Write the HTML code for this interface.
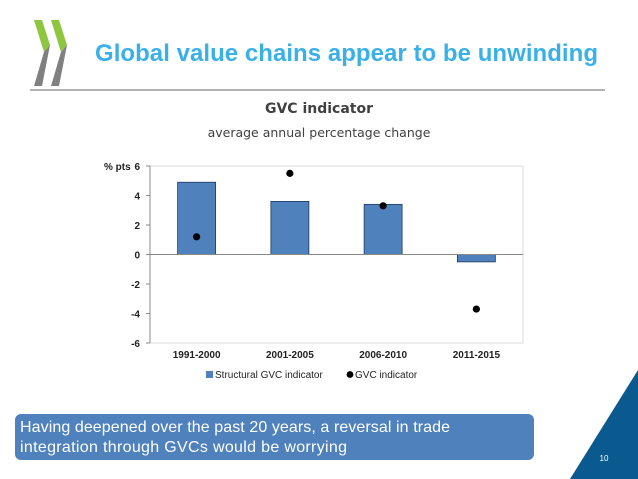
<!DOCTYPE html>
<html><head><meta charset="utf-8"><style>
body{margin:0;width:638px;height:479px;overflow:hidden;background:#fff;font-family:"Liberation Sans",sans-serif;position:relative}
.abs{position:absolute}
</style></head><body>
<svg class="abs" style="left:0;top:0" width="638" height="479">
  <g>
    <polygon points="34,20 42,20 50,45 44,52" fill="#8dc63f"/>
    <polygon points="44,52 50,45 42,86 34,86" fill="#808080"/>
    <polygon points="51,20 59,20 67,45 61,52" fill="#8dc63f"/>
    <polygon points="61,52 67,45 59,86 51,86" fill="#808080"/>
  </g>
  <text x="95" y="61" font-size="24" font-weight="bold" fill="#3ab0e8" textLength="503">Global value chains appear to be unwinding</text>
  <line x1="30" y1="90" x2="605" y2="90" stroke="#666" stroke-width="1"/>
  <text x="319" y="113" font-size="14" font-weight="bold" fill="#404040" text-anchor="middle" font-family="DejaVu Sans, sans-serif">GVC indicator</text>
  <text x="319" y="137" font-size="12.5" fill="#404040" text-anchor="middle" font-family="DejaVu Sans, sans-serif">average annual percentage change</text>
  <g id="chart"></g>
  <rect x="15" y="414" width="519" height="46" rx="6" fill="#4f81bd"/>
  <text font-size="16" fill="#fff"><tspan x="20" y="432" textLength="430">Having deepened over the past 20 years, a reversal in trade</tspan><tspan x="20" y="452" textLength="327">integration through GVCs would be worrying</tspan></text>
  <polygon points="638,370 638,479 570,479" fill="#0b5a8f"/>
  <text x="604" y="461" font-size="8" fill="#fff" text-anchor="middle">10</text>
</svg>
<script>
const categories=["1991-2000","2001-2005","2006-2010","2011-2015"];
const structuralValues=[4.9,3.6,3.4,-0.5];
const gvcValues=[1.2,5.5,3.3,-3.7];
const yTicks=[6,4,2,0,-2,-4,-6];
const NS="http://www.w3.org/2000/svg";
const g=document.getElementById('chart');
const X0=150,X1=523,Y0=166,Y1=343,yMin=-6,yMax=6;
const y=v=>Y0+(yMax-v)/(yMax-yMin)*(Y1-Y0);
const bw=(X1-X0)/categories.length;
const xc=i=>X0+bw*(i+0.5);
function mk(t,a,txt){const e=document.createElementNS(NS,t);for(const k in a)e.setAttribute(k,a[k]);if(txt!=null)e.textContent=txt;g.appendChild(e);return e;}
let e=mk('rect',{x:X0,y:Y0,width:X1-X0,height:Y1-Y0,fill:'none',stroke:'#d9d9d9'});


e=mk('line',{x1:X0,y1:Y0,x2:X0,y2:Y1,stroke:'#888'});


yTicks.forEach(t=>{
  const l=mk('line',{x1:X0-4,y1:y(t),x2:X0,y2:y(t),stroke:'#888'});
  
  
  const tx=mk('text',{x:X0-10,y:y(t)+4,'font-size':10,'font-weight':'bold','text-anchor':'end',fill:'#222'},String(t));
  
  
});
e=mk('text',{x:104,y:y(6)+4,'font-size':10,'font-weight':'bold',fill:'#222'},'% pts');


structuralValues.forEach((v,i)=>{
  const top=Math.min(y(v),y(0)),h=Math.abs(y(v)-y(0));
  const r=mk('rect',{x:xc(i)-19,y:top,width:38,height:h,fill:'#4f81bd',stroke:'#1f3b5c','stroke-width':0.8});
  
  
});
e=mk('line',{x1:X0,y1:y(0),x2:X1,y2:y(0),stroke:'#888'});


gvcValues.forEach((v,i)=>{
  const c=mk('circle',{cx:xc(i),cy:y(v),r:3.6,fill:'#000'});
  
  
});
categories.forEach((c,i)=>{
  const t=mk('text',{x:xc(i),y:358,'font-size':10,'font-weight':'bold','text-anchor':'middle',fill:'#222'},c);
  
  
});
e=mk('rect',{x:206,y:371,width:7,height:7,fill:'#4f81bd'});


e=mk('text',{x:215,y:378,'font-size':10,fill:'#222'},'Structural GVC indicator');


e=mk('circle',{cx:350,cy:374.5,r:3.4,fill:'#000'});


e=mk('text',{x:355,y:378,'font-size':10,fill:'#222'},'GVC indicator');


</script>
</body></html>
